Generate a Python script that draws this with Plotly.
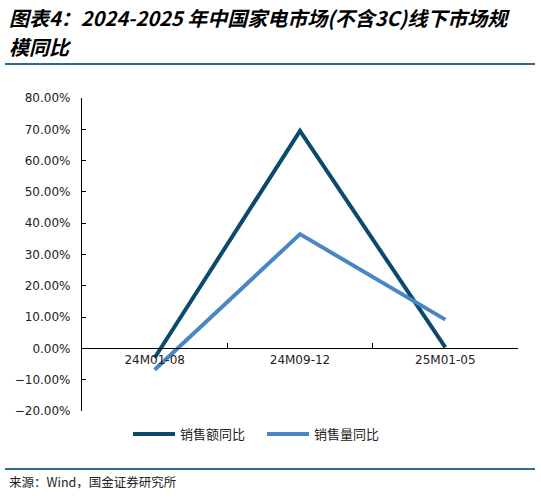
import plotly.graph_objects as go

# ------------------------
# Data (%)
# ------------------------
periods = ["24M01-08", "24M09-12", "25M01-05"]
sales_amount_yoy = [-3.0, 69.5, 0.3]
sales_volume_yoy = [-6.8, 36.5, 9.2]
series_names = ["销售额同比", "销售量同比"]

title_lines = ["图表4：2024-2025 年中国家电市场(不含3C)线下市场规", "模同比"]
source_text = "来源：Wind，国金证券研究所"

# ------------------------
# Geometry (pixels) of the plot area
# ------------------------
W, H = 541, 499
L, R, T, B = 82, 23, 98, 88
pw, ph = W - L - R, H - T - B


def px(x):
    return (x - L) / pw


def py(y):
    return (H - B - y) / ph


dark = "#0B4A6E"
light = "#4A86C6"
rule = "#2E6A8C"

fig = go.Figure()
fig.add_trace(go.Scatter(x=periods, y=sales_amount_yoy, name=series_names[0],
                         mode="lines", line=dict(color=dark, width=4)))
fig.add_trace(go.Scatter(x=periods, y=sales_volume_yoy, name=series_names[1],
                         mode="lines", line=dict(color=light, width=4)))

fig.update_layout(
    width=W, height=H,
    margin=dict(l=L, r=R, t=T, b=B, pad=0),
    paper_bgcolor="white", plot_bgcolor="white",
    font=dict(family="Noto Sans CJK SC", color="#222222"),
    showlegend=True,
    legend=dict(orientation="h", x=px(128), y=py(434), xanchor="left", yanchor="middle",
                itemwidth=42, entrywidth=77, entrywidthmode="pixels",
                font=dict(size=13, family="Noto Sans CJK SC"),
                traceorder="normal", tracegroupgap=0),
    xaxis=dict(
        type="category", range=[-0.5, 2.5],
        anchor="free", position=0.2, side="bottom",
        showline=True, linecolor="black", linewidth=1.2,
        ticks="inside", ticklen=5, tickcolor="black", tickson="boundaries",
        showgrid=False, zeroline=False, automargin=False,
        tickfont=dict(family="DejaVu Sans", size=12, color="#222222"),
    ),
    yaxis=dict(
        range=[-20, 80], dtick=10, tick0=0,
        tickformat=".2f", ticksuffix="%",
        showline=True, linecolor="black", linewidth=1.2,
        ticks="inside", ticklen=4, tickcolor="black",
        showgrid=False, zeroline=False, automargin=False,
        ticklabelstandoff=8,
        tickfont=dict(family="DejaVu Sans", size=12, color="#222222"),
    ),
)

# title, two lines
for i, line in enumerate(title_lines):
    fig.add_annotation(text="<b><i>" + line + "</i></b>", xref="paper", yref="paper",
                       x=px(7), y=py(17 + 29 * i), xanchor="left", yanchor="middle", align="left",
                       showarrow=False, font=dict(size=20, family="Noto Sans CJK SC", color="black"))
fig.add_annotation(text=source_text, xref="paper", yref="paper",
                   x=px(7), y=py(481), xanchor="left", yanchor="middle", align="left",
                   showarrow=False, font=dict(size=12.5, family="Noto Sans CJK SC", color="#222222"))

fig.add_shape(type="line", xref="paper", yref="paper", x0=px(5), x1=px(535),
              y0=py(64), y1=py(64), line=dict(color=rule, width=2))
fig.add_shape(type="line", xref="paper", yref="paper", x0=px(5), x1=px(535),
              y0=py(469), y1=py(469), line=dict(color=rule, width=2))

fig.write_html("out.html", config={"displayModeBar": False},
               post_script="document.body.style.margin='0';")
